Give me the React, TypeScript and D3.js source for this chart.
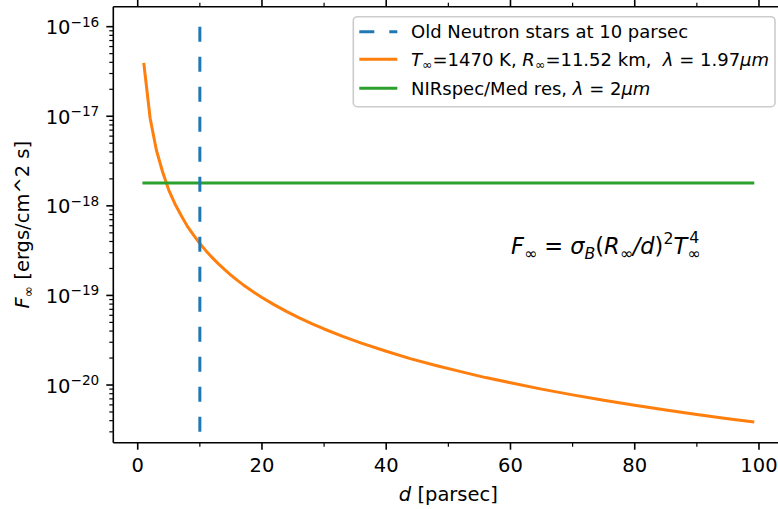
import React from "react";
import * as d3 from "d3";

// ---- data ----
const distances = [1, 2, 3, 4, 5, 6, 7, 8, 9, 10, 11, 12, 13, 14, 15, 16, 17, 18, 19, 20, 22, 24, 26, 28, 30, 33, 36, 40, 44, 48, 52, 56, 60, 65, 70, 75, 80, 85, 90, 95, 99];
const fluxes = [3.8e-17, 9.5e-18, 4.2e-18, 2.4e-18, 1.5e-18, 1.05e-18, 7.8e-19, 5.9e-19, 4.7e-19, 3.8e-19, 3.14e-19, 2.64e-19, 2.25e-19, 1.94e-19, 1.69e-19, 1.48e-19, 1.31e-19, 1.17e-19, 1.05e-19, 9.5e-20, 7.85e-20, 6.6e-20, 5.62e-20, 4.85e-20, 4.22e-20, 3.49e-20, 2.93e-20, 2.38e-20, 1.96e-20, 1.65e-20, 1.41e-20, 1.21e-20, 1.06e-20, 9.0e-21, 7.76e-21, 6.76e-21, 5.94e-21, 5.26e-21, 4.69e-21, 4.21e-21, 3.88e-21];
const nirspecD = [1, 99];
const nirspecF = [1.8e-18, 1.8e-18];
const oldNsD = [10, 10];
const oldNsF = [3e-21, 1e-16];
const xMajorTicks = [0, 20, 40, 60, 80, 100];
const xMinorTicks = [10, 30, 50, 70, 90];
const yDecades = [-16, -17, -18, -19, -20];
const legendLabels = ["Old Neutron stars at 10 parsec"];

const W = 778;
const H = 509;
const FONT = "DejaVu Sans";
const BLUE = "#1f77b4";
const ORANGE = "#ff7f0e";
const GREEN = "#2ca02c";

const left = 113.3;
const right = 783.4;
const top = 6.7;
const bottom = 442.7;

const x = d3.scaleLinear().domain([-3.93, 103.93]).range([left, right]);
const y = d3.scaleLog().domain([Math.pow(10, -20.644), Math.pow(10, -15.777)]).range([bottom, top]);

const line = d3
  .line<[number, number]>()
  .x((p) => x(p[0]))
  .y((p) => y(p[1]));

const zip = (a: number[], b: number[]): [number, number][] => a.map((v, i) => [v, b[i]]);

function minorY(): number[] {
  const out: number[] = [];
  const [lo, hi] = y.domain();
  for (let e = -22; e <= -14; e++) {
    for (let m = 2; m <= 9; m++) {
      const v = m * Math.pow(10, e);
      if (v >= lo && v <= hi) out.push(v);
    }
  }
  return out;
}

export default function App() {
  const tickFs = 19.5;
  const legFs = 18;
  const supFs = tickFs * 0.7;
  const yMinor = minorY();
  const legX0 = 359.3;
  const legX1 = 397.3;
  const legTextX = 411;
  const rows = [31.7, 59.3, 88.3];
  const sub = legFs * 0.7;
  const fF = 22.5;
  const fS = 15.7;

  return (
    <svg
      width={W}
      height={H}
      style={{ position: "absolute", left: 0, top: 0, background: "#fff" }}
      fontFamily={FONT}
    >
      <rect x={0} y={0} width={W} height={H} fill="#fff" />

      {/* data lines */}
      <path d={line(zip(distances, fluxes)) || ""} fill="none" stroke={ORANGE} strokeWidth={3} strokeLinejoin="round" strokeLinecap="square" />
      <path d={line(zip(nirspecD, nirspecF)) || ""} fill="none" stroke={GREEN} strokeWidth={3} strokeLinecap="square" />
      <line
        x1={x(oldNsD[1])}
        y1={y(oldNsF[1])}
        x2={x(oldNsD[0])}
        y2={y(oldNsF[0])}
        stroke={BLUE}
        strokeWidth={3}
        strokeDasharray="15,15"
      />

      {/* spines */}
      <g stroke="#000" strokeWidth={1.6} fill="none">
        <line x1={left} y1={top} x2={left} y2={bottom} />
        <line x1={left} y1={bottom} x2={right} y2={bottom} />
        <line x1={left} y1={top} x2={right} y2={top} />
        <line x1={right} y1={top} x2={right} y2={bottom} />
      </g>

      {/* x ticks bottom & top */}
      {xMajorTicks.map((t) => (
        <g key={"xm" + t}>
          <line x1={x(t)} x2={x(t)} y1={bottom} y2={bottom + 7} stroke="#000" strokeWidth={1.6} />
          <line x1={x(t)} x2={x(t)} y1={top} y2={top - 7} stroke="#000" strokeWidth={1.6} />
          <text x={x(t)} y={bottom + 14 + tickFs * 0.76} fontSize={tickFs} textAnchor="middle" fill="#000">
            {t}
          </text>
        </g>
      ))}
      {xMinorTicks.map((t) => (
        <g key={"xn" + t}>
          <line x1={x(t)} x2={x(t)} y1={bottom} y2={bottom + 4} stroke="#000" strokeWidth={1.2} />
          <line x1={x(t)} x2={x(t)} y1={top} y2={top - 4} stroke="#000" strokeWidth={1.2} />
        </g>
      ))}

      {/* y ticks */}
      {yDecades.map((e) => {
        const yy = y(Math.pow(10, e));
        return (
          <g key={"y" + e}>
            <line x1={left} x2={left - 7} y1={yy} y2={yy} stroke="#000" strokeWidth={1.6} />
            <text x={left - 14} y={yy + 7.6} fontSize={tickFs} textAnchor="end" fill="#000">
              10
              <tspan fontSize={supFs} dy={-7.6}>
                {"\u2212" + String(-e)}
              </tspan>
            </text>
          </g>
        );
      })}
      {yMinor.map((v, i) => (
        <line key={"ym" + i} x1={left} x2={left - 4} y1={y(v)} y2={y(v)} stroke="#000" strokeWidth={1.2} />
      ))}

      {/* axis labels */}
      <text x={(left + right) / 2} y={501} fontSize={tickFs} textAnchor="middle" fill="#000">
        <tspan fontStyle="italic">d</tspan> [parsec]
      </text>
      <text transform={`translate(29,${(top + bottom) / 2}) rotate(-90)`} fontSize={tickFs} textAnchor="middle" fill="#000">
        <tspan fontStyle="italic">F</tspan>
        <tspan fontSize={tickFs * 0.7} dy={4}>{"\u221E"}</tspan>
        <tspan dy={-4}> [ergs/cm^2 s]</tspan>
      </text>

      {/* formula */}
      <text x={511} y={254} fontSize={fF} fill="#000">
        <tspan fontStyle="italic">F</tspan>
        <tspan fontSize={fS} dy={5}>{"\u221E"}</tspan>
        <tspan dy={-5}>{"\u00A0=\u00A0"}</tspan>
        <tspan fontStyle="italic">{"\u03C3"}</tspan>
        <tspan fontStyle="italic" fontSize={fS} dy={5}>B</tspan>
        <tspan dy={-5}>(</tspan>
        <tspan fontStyle="italic">R</tspan>
        <tspan fontSize={fS} dy={5}>{"\u221E"}</tspan>
        <tspan dy={-5} fontStyle="italic">/d</tspan>
        <tspan>)</tspan>
        <tspan fontSize={fS} dy={-10}>2</tspan>
        <tspan dy={10} fontStyle="italic">T</tspan>
        <tspan fontSize={fS} dy={5}>{"\u221E"}</tspan>
        <tspan fontSize={fS} dx={-11} dy={-16}>4</tspan>
      </text>

      {/* legend */}
      <rect x={353.3} y={16.7} width={775 - 353.3} height={106.7 - 16.7} rx={4} fill="#fff" fillOpacity={0.8} stroke="#cccccc" strokeWidth={1.6} />
      <line x1={legX0} x2={legX1} y1={rows[0]} y2={rows[0]} stroke={BLUE} strokeWidth={3} strokeDasharray="15,15" />
      <line x1={legX0} x2={legX1} y1={rows[1]} y2={rows[1]} stroke={ORANGE} strokeWidth={3} />
      <line x1={legX0} x2={legX1} y1={rows[2]} y2={rows[2]} stroke={GREEN} strokeWidth={3} />
      <text x={legTextX} y={rows[0] + 6.3} fontSize={legFs} fill="#000">
        {legendLabels[0]}
      </text>
      <text x={legTextX} y={rows[1] + 6.3} fontSize={legFs} fill="#000">
        <tspan fontStyle="italic">T</tspan>
        <tspan fontSize={sub} dy={3.5}>{"\u221E"}</tspan>
        <tspan dy={-3.5}>=1470 K, </tspan>
        <tspan fontStyle="italic">R</tspan>
        <tspan fontSize={sub} dy={3.5}>{"\u221E"}</tspan>
        <tspan dy={-3.5}>{"=11.52 km,\u00A0\u00A0"}</tspan>
        <tspan fontStyle="italic">{"\u03BB"}</tspan>
        <tspan>{"\u00A0=\u00A01.97"}</tspan>
        <tspan fontStyle="italic">{"\u03BCm"}</tspan>
      </text>
      <text x={legTextX} y={rows[2] + 6.3} fontSize={legFs} fill="#000">
        <tspan>NIRspec/Med res, </tspan>
        <tspan fontStyle="italic">{"\u03BB"}</tspan>
        <tspan>{"\u00A0=\u00A02"}</tspan>
        <tspan fontStyle="italic">{"\u03BCm"}</tspan>
      </text>
    </svg>
  );
}
